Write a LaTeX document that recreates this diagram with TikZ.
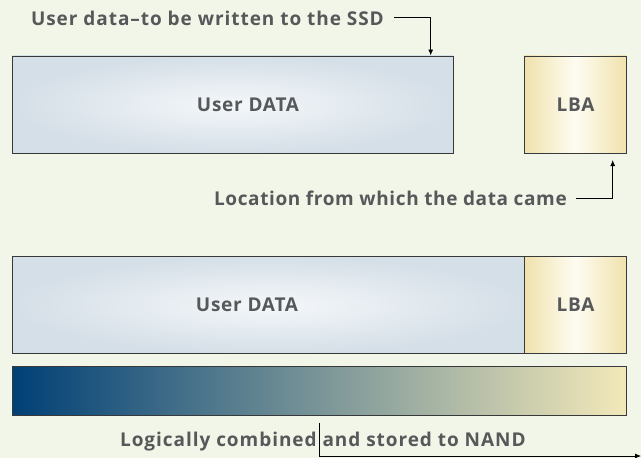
\documentclass[tikz,border=0pt]{standalone}
\usepackage{fontspec}
\setmainfont{Open Sans}
\newfontfamily\lblfont[LetterSpace=5]{Open Sans}
\newfontfamily\lblfontb[LetterSpace=3.3]{Open Sans}
\newfontfamily\boxfont[LetterSpace=4]{Open Sans}
\usetikzlibrary{arrows.meta}
\definecolor{bg}{RGB}{242,246,232}
\definecolor{txt}{RGB}{86,88,90}
\definecolor{bord}{RGB}{55,57,58}
\definecolor{udo}{RGB}{213,223,231}
\definecolor{udc}{RGB}{244,247,250}
\definecolor{lbe}{RGB}{240,226,172}
\definecolor{lbc}{RGB}{254,252,242}
\definecolor{gl}{RGB}{0,64,118}
\definecolor{gm}{RGB}{125,152,160}
\definecolor{gr}{RGB}{243,233,185}
\pgfdeclareradialshading{udshade}{\pgfpoint{0bp}{0bp}}{color(0bp)=(udc); color(25bp)=(udo); color(50bp)=(udo)}
\begin{document}
\begin{tikzpicture}[x=1pt,y=-1pt,
  lbl/.style={font=\lblfont\bfseries\fontsize{19}{22}\selectfont, text=txt, inner sep=0pt},
  lblb/.style={lbl, font=\lblfontb\bfseries\fontsize{19}{22}\selectfont},
  boxlbl/.style={font=\boxfont\bfseries\fontsize{19}{22}\selectfont, text=txt, inner sep=0pt},
  box/.style={draw=bord, line width=0.9pt, inner sep=0pt, anchor=north west},
  udbox/.style={box, shading=udshade},
  lbabox/.style={box, left color=lbe, right color=lbe, middle color=lbc},
  conn/.style={draw=black, line width=0.8pt},
  tip/.style={-{Latex[length=6pt,width=5pt]}}]
\fill[bg] (0,0) rectangle (641,458);
\useasboundingbox (0,0) rectangle (641,458);

% top row
\node[udbox, minimum width=440.7pt, minimum height=97.5pt] (ud1) at (12,55.5) {};
\node[lbabox, minimum width=102pt, minimum height=97.5pt] (lba1) at (524,55.5) {};
\node[boxlbl, anchor=base] (ud1t) at (248,111) {User DATA};
\node[boxlbl, anchor=base] (lba1t) at (575.5,111) {LBA};

\node[lbl, anchor=base east] (t1) at (384,25) {User data–to be written to the SSD};
\coordinate (a1s) at (394,17);
\coordinate (a1c) at (430.7,17);
\draw[conn,tip] (a1s) -- (a1c) -- (a1c |- ud1.north);

\node[lblb, anchor=base east] (t2) at (567,205.5) {Location from which the data came};
\coordinate (a2s) at (576,198);
\coordinate (a2c) at (612.7,198);
\coordinate (a2e) at (612.7,160);
\draw[conn,tip] (a2s) -- (a2c) -- (a2e);

% bottom row
\node[udbox, minimum width=512.3pt, minimum height=97.3pt] (ud2) at (12,256) {};
\node[lbabox, minimum width=101.4pt, minimum height=97.3pt] (lba2) at (524.3,256) {};
\node[boxlbl, anchor=base] (ud2t) at (247,311) {User DATA};
\node[boxlbl, anchor=base] (lba2t) at (575.5,311) {LBA};

\node[box, minimum width=613.7pt, minimum height=49pt, left color=gl, middle color=gm, right color=gr] (bar) at (12,366) {};

\node[lbl, anchor=base] (t3) at (322.9,446.7) {Logically combined and stored to NAND};
\coordinate (a3s) at (319,423);
\coordinate (a3c) at (319,456);
\coordinate (a3e) at (641,456);
\draw[conn,tip] (a3s) -- (a3c) -- (a3e);
\end{tikzpicture}
\end{document}
